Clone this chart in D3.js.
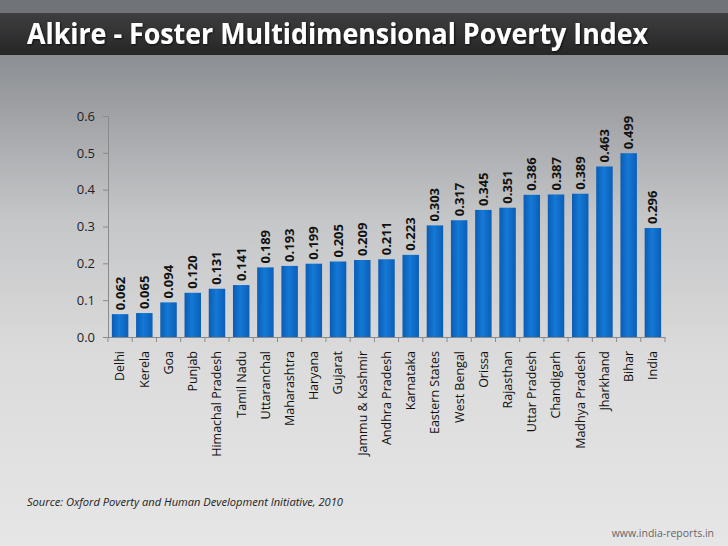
<!DOCTYPE html>
<html>
<head>
<meta charset="utf-8">
<script src="https://cdn.jsdelivr.net/npm/d3@7"></script>
<style>
  body { margin: 0; padding: 0; overflow: hidden; }
  svg { display: block; }
</style>
</head>
<body>
<svg id="chart" width="728" height="546"></svg>
<script>
// data
let categories = ["Delhi", "Kerela", "Goa", "Punjab", "Himachal Pradesh", "Tamil Nadu",
    "Uttaranchal", "Maharashtra", "Haryana", "Gujarat", "Jammu & Kashmir", "Andhra Pradesh",
    "Karnataka", "Eastern States", "West Bengal", "Orissa", "Rajasthan", "Uttar Pradesh",
    "Chandigarh", "Madhya Pradesh", "Jharkhand", "Bihar", "India"];
let mpiValues = [0.062, 0.065, 0.094, 0.120, 0.131, 0.141, 0.189, 0.193, 0.199, 0.205,
    0.209, 0.211, 0.223, 0.303, 0.317, 0.345, 0.351, 0.386, 0.387, 0.389, 0.463, 0.499, 0.296];
let yTicks = [0.0, 0.1, 0.2, 0.3, 0.4, 0.5, 0.6];

let titleText = "Alkire - Foster Multidimensional Poverty Index";
let sourceText = "Source: Oxford Poverty and Human Development Initiative, 2010";
let siteText = "www.india-reports.in";

let svg = d3.select("#chart");
let defs = svg.append("defs");

// background gradient
let bg = defs.append("linearGradient").attr("id", "bg")
    .attr("x1", 0).attr("y1", 0).attr("x2", 0).attr("y2", 1);
bg.append("stop").attr("offset", "0%").attr("stop-color", "#75787d");
bg.append("stop").attr("offset", "12%").attr("stop-color", "#8f9296");
bg.append("stop").attr("offset", "40%").attr("stop-color", "#c5c6c8");
bg.append("stop").attr("offset", "65%").attr("stop-color", "#dbdbdb");
bg.append("stop").attr("offset", "100%").attr("stop-color", "#e6e6e6");

let band = defs.append("linearGradient").attr("id", "band")
    .attr("x1", 0).attr("y1", 0).attr("x2", 0).attr("y2", 1);
band.append("stop").attr("offset", "0%").attr("stop-color", "#3e3e40");
band.append("stop").attr("offset", "100%").attr("stop-color", "#262627");

let barGrad = defs.append("linearGradient").attr("id", "barGrad")
    .attr("x1", 0).attr("y1", 0).attr("x2", 1).attr("y2", 0);
barGrad.append("stop").attr("offset", "0%").attr("stop-color", "#0a5cb4");
barGrad.append("stop").attr("offset", "45%").attr("stop-color", "#1479d6");
barGrad.append("stop").attr("offset", "100%").attr("stop-color", "#0a5eb8");

let shadow = defs.append("filter").attr("id", "shadow");
shadow.append("feDropShadow").attr("dx", 1).attr("dy", 1).attr("stdDeviation", 1)
    .attr("flood-color", "#000").attr("flood-opacity", 0.7);

svg.append("rect").attr("width", 728).attr("height", 546).attr("fill", "url(#bg)");
svg.append("rect").attr("x", 0).attr("y", 0).attr("width", 728).attr("height", 13).attr("fill", "#707378");
svg.append("rect").attr("x", 0).attr("y", 13).attr("width", 728).attr("height", 42).attr("fill", "url(#band)");

svg.append("text")
    .attr("x", 27).attr("y", 44)
    .attr("font-family", "Open Sans, sans-serif")
    .attr("font-weight", "bold")
    .attr("font-size", 28)
    .attr("fill", "#fff")
    .attr("textLength", 621)
    .attr("lengthAdjust", "spacingAndGlyphs")
    .attr("filter", "url(#shadow)")
    .text(titleText);

// scales
let plotLeft = 108, plotRight = 665, plotTop = 116, plotBottom = 337;
let x = d3.scaleBand()
    .domain(categories)
    .range([plotLeft, plotRight])
    .paddingInner(0.32)
    .paddingOuter(0.16);
let y = d3.scaleLinear().domain([0, 0.6]).range([plotBottom, plotTop]);

// y axis
let yAxis = svg.append("g")
    .attr("transform", "translate(" + plotLeft + ",0)")
    .call(d3.axisLeft(y).tickValues(yTicks).tickFormat(d3.format(".1f")).tickSize(5).tickPadding(8));
yAxis.select(".domain").attr("stroke", "#8a8a8a");
yAxis.selectAll(".tick line").attr("stroke", "#8a8a8a");
yAxis.selectAll("text")
    .attr("font-family", "Open Sans, sans-serif")
    .attr("font-size", 13)
    .attr("fill", "#222");

// bars
svg.append("g").selectAll("rect")
    .data(mpiValues)
    .enter()
    .append("rect")
    .attr("x", (d, i) => x(categories[i]))
    .attr("y", d => y(d))
    .attr("width", x.bandwidth())
    .attr("height", d => y(0) - y(d))
    .attr("fill", "url(#barGrad)");

// value labels
svg.append("g").selectAll("text")
    .data(mpiValues)
    .enter()
    .append("text")
    .attr("transform", (d, i) => "translate(" + (x(categories[i]) + x.bandwidth() / 2 + 4.5) + "," + (y(d) - 4) + ") rotate(-90)")
    .attr("font-family", "Open Sans, sans-serif")
    .attr("font-weight", "bold")
    .attr("font-size", 13)
    .attr("fill", "#111")
    .text(d => d3.format(".3f")(d));

// x axis
let xAxis = svg.append("g")
    .attr("transform", "translate(0," + plotBottom + ")")
    .call(d3.axisBottom(x).tickSize(0).tickPadding(0));
xAxis.select(".domain").attr("stroke", "#8a8a8a").attr("d", "M" + plotLeft + ",0.5H" + plotRight);
xAxis.selectAll(".tick text")
    .attr("transform", "rotate(-90)")
    .attr("text-anchor", "end")
    .attr("x", -14)
    .attr("y", 0)
    .attr("dy", "0.35em")
    .attr("font-family", "Open Sans, sans-serif")
    .attr("font-size", 12.5)
    .attr("fill", "#111");

// category boundary ticks
let step = x.step();
svg.append("g").selectAll("line")
    .data(d3.range(categories.length + 1))
    .enter()
    .append("line")
    .attr("x1", i => plotLeft + i * step)
    .attr("x2", i => plotLeft + i * step)
    .attr("y1", plotBottom)
    .attr("y2", plotBottom + 5)
    .attr("stroke", "#8a8a8a");

// footer
svg.append("text")
    .attr("x", 27).attr("y", 506)
    .attr("font-family", "Open Sans, sans-serif")
    .attr("font-style", "italic")
    .attr("font-size", 10.5)
    .attr("fill", "#222")
    .attr("textLength", 316)
    .attr("lengthAdjust", "spacingAndGlyphs")
    .text(sourceText);

svg.append("text")
    .attr("x", 714).attr("y", 537)
    .attr("text-anchor", "end")
    .attr("font-family", "Open Sans, sans-serif")
    .attr("font-size", 10.5)
    .attr("fill", "#666")
    .text(siteText);
</script>
</body>
</html>
